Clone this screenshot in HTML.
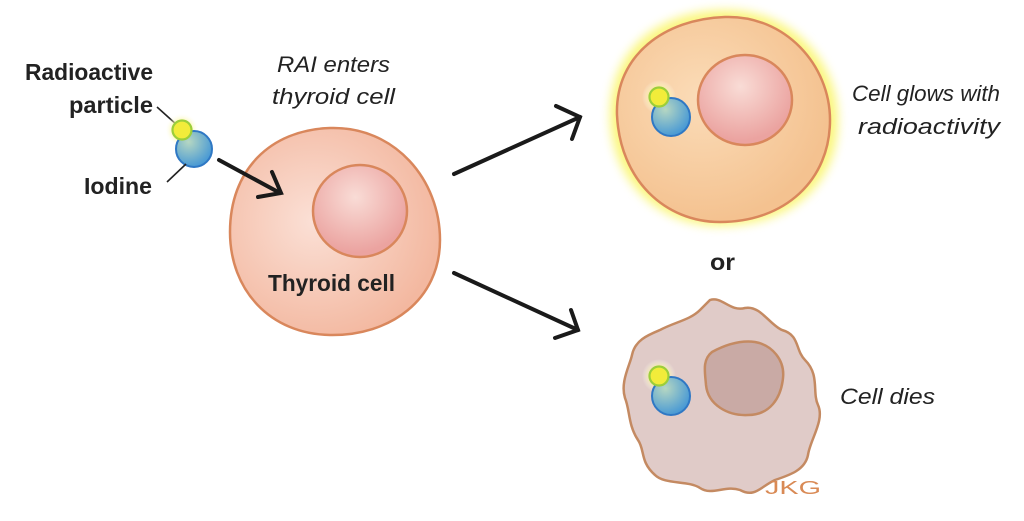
<!DOCTYPE html>
<html><head><meta charset="utf-8"><style>
html,body{margin:0;padding:0;background:#fff;width:1024px;height:521px;overflow:hidden}
text{font-family:"Liberation Sans",sans-serif;fill:#222}
</style></head><body>
<svg width="1024" height="521" viewBox="0 0 1024 521" xmlns="http://www.w3.org/2000/svg">
<defs>
<radialGradient id="cellA" cx="0.4" cy="0.45" r="0.6"><stop offset="0" stop-color="#fbe0d6"/><stop offset="1" stop-color="#f3b8a0"/></radialGradient>
<radialGradient id="nuc" cx="0.45" cy="0.35" r="0.6"><stop offset="0" stop-color="#f9dcd6"/><stop offset="1" stop-color="#eba3a0"/></radialGradient>
<radialGradient id="cellB" cx="0.4" cy="0.4" r="0.6"><stop offset="0" stop-color="#fbdcb8"/><stop offset="1" stop-color="#f4c290"/></radialGradient>
<radialGradient id="iod" cx="0.35" cy="0.3" r="0.7"><stop offset="0" stop-color="#b6d7c2"/><stop offset="1" stop-color="#4a9ad4"/></radialGradient>
<radialGradient id="pglow" cx="0.5" cy="0.5" r="0.5"><stop offset="0.4" stop-color="#faf27a"/><stop offset="1" stop-color="#fff" stop-opacity="0"/></radialGradient>
<filter id="blur"><feGaussianBlur stdDeviation="5"/></filter>
</defs>

<line x1="157" y1="107" x2="177" y2="125" stroke="#222" stroke-width="1.6"/>
<circle cx="182" cy="130" r="17" fill="url(#pglow)"/>
<circle cx="194" cy="149" r="18" fill="url(#iod)" stroke="#2f78c4" stroke-width="2"/>
<circle cx="182" cy="130" r="9.5" fill="#f2ec3a" stroke="#9cce3a" stroke-width="2.2"/>
<line x1="167" y1="182" x2="186" y2="164" stroke="#222" stroke-width="1.6"/>

<path d="M330 128 C395 126 440 180 440 240 C440 300 390 336 330 335 C270 334 230 290 230 232 C230 170 270 130 330 128 Z" fill="url(#cellA)" stroke="#d9875c" stroke-width="2.5"/>
<ellipse cx="360" cy="211" rx="47" ry="46" fill="url(#nuc)" stroke="#d9875c" stroke-width="2.5"/>

<g stroke="#1a1a1a" stroke-width="4" fill="none" stroke-linecap="round">
<line x1="219" y1="160" x2="280" y2="193"/>
<polyline points="272,172 281,193 258,197"/>
<line x1="454" y1="174" x2="580" y2="117"/>
<polyline points="556,106 580,117 572,139"/>
<line x1="454" y1="273" x2="578" y2="330"/>
<polyline points="571,310 578,330 555,338"/>
</g>

<path d="M722 10 C790 8 838 60 838 120 C838 185 790 226 720 226 C658 226 610 180 610 115 C610 50 657 12 722 10 Z" fill="#f6ee00" opacity="0.5" filter="url(#blur)"/>
<path d="M725 17 C785 15 830 65 830 120 C830 180 785 222 720 222 C665 222 620 180 617 115 C615 55 665 19 725 17 Z" fill="url(#cellB)" stroke="#d9875c" stroke-width="2.5"/>
<ellipse cx="745" cy="100" rx="47" ry="45" fill="url(#nuc)" stroke="#d9875c" stroke-width="2.5"/>
<circle cx="659" cy="97" r="17" fill="url(#pglow)"/>
<circle cx="671" cy="117" r="19" fill="url(#iod)" stroke="#2f78c4" stroke-width="2"/>
<circle cx="659" cy="97" r="9.5" fill="#f2ec3a" stroke="#9cce3a" stroke-width="2.2"/>

<path d="M710 300 C722 296 730 312 745 308 C760 305 770 325 782 330 C800 335 795 350 805 360 C820 375 812 392 818 405 C825 420 810 440 808 455 C805 470 790 475 775 480 C760 487 755 498 740 490 C725 485 712 496 700 488 C688 480 665 485 655 475 C640 462 645 450 638 440 C628 425 630 410 625 398 C620 382 630 365 632 355 C635 340 648 335 660 330 C675 322 690 320 700 310 Z" fill="#e0cbc8" stroke="#c48a62" stroke-width="2.5"/>
<path d="M712 352 C725 345 740 340 755 342 C772 345 785 360 783 378 C781 398 770 415 748 415 C728 416 708 405 706 385 C705 372 702 360 712 352 Z" fill="#c9aaa5" stroke="#c48a62" stroke-width="2.5"/>
<circle cx="659" cy="376" r="17" fill="url(#pglow)"/>
<circle cx="671" cy="396" r="19" fill="url(#iod)" stroke="#2f78c4" stroke-width="2"/>
<circle cx="659" cy="376" r="9.5" fill="#f2ec3a" stroke="#9cce3a" stroke-width="2.2"/>
<text x="765" y="494" style="font-family:'Liberation Sans',sans-serif;fill:#d98a55" font-size="18" textLength="56" lengthAdjust="spacingAndGlyphs">JKG</text>

<text x="25" y="80" font-size="23" font-weight="bold" textLength="128" lengthAdjust="spacingAndGlyphs">Radioactive</text>
<text x="69" y="113" font-size="23" font-weight="bold" textLength="84" lengthAdjust="spacingAndGlyphs">particle</text>
<text x="84" y="194" font-size="23" font-weight="bold" textLength="68" lengthAdjust="spacingAndGlyphs">Iodine</text>
<text x="277" y="72" font-size="22" font-style="italic" textLength="113" lengthAdjust="spacingAndGlyphs">RAI enters</text>
<text x="272" y="104" font-size="22" font-style="italic" textLength="123" lengthAdjust="spacingAndGlyphs">thyroid cell</text>
<text x="268" y="291" font-size="23" font-weight="bold" textLength="127" lengthAdjust="spacingAndGlyphs">Thyroid cell</text>
<text x="852" y="101" font-size="22" font-style="italic" textLength="148" lengthAdjust="spacingAndGlyphs">Cell glows with</text>
<text x="858" y="134" font-size="22" font-style="italic" textLength="142" lengthAdjust="spacingAndGlyphs">radioactivity</text>
<text x="710" y="270" font-size="23" font-weight="bold" textLength="25" lengthAdjust="spacingAndGlyphs">or</text>
<text x="840" y="404" font-size="22" font-style="italic" textLength="95" lengthAdjust="spacingAndGlyphs">Cell dies</text>
</svg>
</body></html>
